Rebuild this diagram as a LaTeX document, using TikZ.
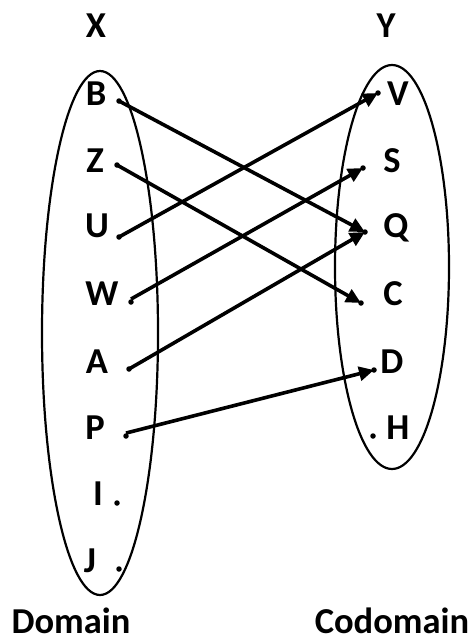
\documentclass[tikz,border=0pt]{standalone}
\usepackage{fontspec}
\setmainfont{Carlito}
\usetikzlibrary{arrows.meta}
\begin{document}
\begin{tikzpicture}[x=1pt,y=-1pt,
  lbl/.style={font=\fontsize{36.5}{40}\selectfont\bfseries, inner sep=0pt, anchor=base},
  dotnode/.style={circle, fill=black, inner sep=0pt, minimum size=5.5pt},
  setline/.style={line width=2.2pt},
  maparrow/.style={line width=3.6pt, -{Triangle[length=15pt,width=14pt]}}]
\useasboundingbox (0,0) rectangle (476,643);
% sets
\draw[setline] (100,333) ellipse [x radius=58, y radius=262];
\draw[setline] (392,267) ellipse [x radius=57, y radius=202];
% headings
\node[lbl] (X) at (96,37) {X};
\node[lbl] (Y) at (386,37) {Y};
\node[lbl] (dom) at (71,633) {Domain};
\node[lbl] (cod) at (392,633) {Codomain};
% domain labels
\node[lbl] (lB) at (96,105) {B};
\node[lbl] (lZ) at (95,172) {Z};
\node[lbl] (lU) at (97,237) {U};
\node[lbl] (lW) at (102,305) {W};
\node[lbl] (lA) at (97,373) {A};
\node[lbl] (lP) at (95,439) {P};
\node[lbl] (lI) at (98,505) {I};
\node[lbl] (lJ) at (90,572) {J};
% codomain labels
\node[lbl] (lV) at (398,105) {V};
\node[lbl] (lS) at (392,172) {S};
\node[lbl] (lQ) at (396,237) {Q};
\node[lbl] (lC) at (393,305) {C};
\node[lbl] (lD) at (392,373) {D};
\node[lbl] (lH) at (398,439) {H};
% dots
\node[dotnode] (dB) at (119,101) {};
\node[dotnode] (dZ) at (117,165) {};
\node[dotnode] (dU) at (119,237) {};
\node[dotnode] (dW) at (131,302) {};
\node[dotnode] (dA) at (129,369) {};
\node[dotnode] (dP) at (126,436) {};
\node[dotnode] (dI) at (117,503) {};
\node[dotnode] (dJ) at (119,569) {};
\node[dotnode] (dV) at (378,93) {};
\node[dotnode] (dS) at (363,168) {};
\node[dotnode] (dQ) at (365,232) {};
\node[dotnode] (dC) at (361,303) {};
\node[dotnode] (dD) at (374,370) {};
\node[dotnode] (dH) at (373,436) {};
% mapping
\draw[maparrow] (dB.center) -- (dQ.center);
\draw[maparrow] (dZ.center) -- (dC.center);
\draw[maparrow] (dU.center) -- (dV.center);
\draw[maparrow] (dW.north) -- (dS.center);
\draw[maparrow] (dA.center) -- (dQ.center);
\draw[maparrow] (dP.north) -- (dD.center);
\end{tikzpicture}
\end{document}
